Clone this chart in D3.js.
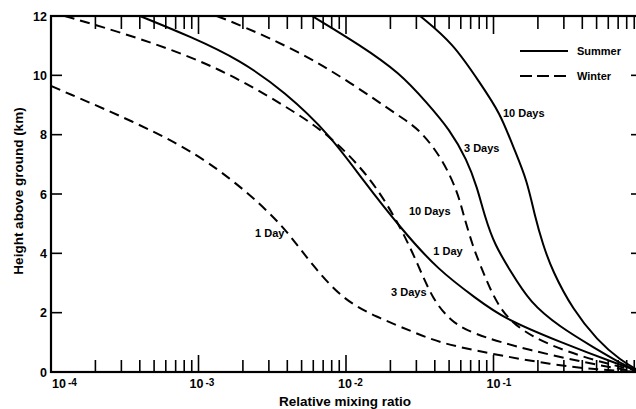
<!DOCTYPE html>
<html><head><meta charset="utf-8">
<script src="https://cdn.jsdelivr.net/npm/d3@7"></script>
<style>
html,body{margin:0;padding:0;background:#fff;}
svg{display:block;font-family:"Liberation Sans",Arial,Helvetica,sans-serif;font-weight:bold;}
</style></head>
<body>
<svg id="chart" width="636" height="409"></svg>
<script>
// ---- data (relative mixing ratio, height km) ----
const xDecades = [1e-4, 1e-3, 1e-2, 1e-1, 1];
const xTickExps = ["-4", "-3", "-2", "-1"];
const yTicks = [0, 2, 4, 6, 8, 10, 12];

const summer1Day = [[4.01e-4,12.0],[8.9e-4,11.3],[1.91e-3,10.52],[3.86e-3,9.44],[7.80e-3,7.99],[0.0130,6.47],[0.0240,4.79],[0.0421,3.44],[0.0773,2.46],[0.116,1.82],[0.282,1.01],[0.721,0.24],[1.0,0.0]];
const summer3Days = [[5.89e-3,12.0],[0.01245,11.02],[0.0232,10.08],[0.0354,9.07],[0.0507,8.16],[0.0661,7.15],[0.0773,6.24],[0.0875,5.22],[0.102,4.28],[0.129,3.44],[0.177,2.33],[0.282,1.52],[0.473,0.84],[0.804,0.17],[1.0,0.0]];
const summer10Days = [[0.0318,12.0],[0.0531,11.09],[0.0809,9.74],[0.111,8.73],[0.136,7.58],[0.169,6.47],[0.191,5.22],[0.217,4.28],[0.249,3.44],[0.346,2.09],[0.504,1.08],[0.721,0.40],[1.0,0.0]];
const winter1Day = [[1.0e-4,9.64],[7.14e-4,7.82],[1.71e-3,6.47],[2.91e-3,5.46],[4.17e-3,4.62],[5.89e-3,3.61],[9.55e-3,2.43],[0.0162,1.85],[0.0285,1.35],[0.0434,0.98],[0.0903,0.64],[0.253,0.24],[0.527,0.07],[1.0,0.0]];
const winter3Days = [[1.24e-4,12.0],[4.01e-4,11.26],[1.40e-3,10.25],[3.86e-3,8.97],[7.80e-3,7.99],[0.01524,6.47],[0.0240,4.79],[0.0308,3.61],[0.0389,2.43],[0.0507,1.75],[0.0693,1.31],[0.169,0.74],[0.581,0.17],[1.0,0.0]];
const winter10Days = [[1.33e-3,12.0],[1.91e-3,11.70],[4.87e-3,10.79],[0.01064,9.77],[0.0240,8.56],[0.0318,8.16],[0.0455,7.15],[0.0574,6.03],[0.0621,5.36],[0.0726,4.21],[0.0839,3.44],[0.111,1.99],[0.177,1.18],[0.386,0.51],[1.0,0.0]];

// label anchors (mixing ratio, height) for the curve labels
const curveLabels = [
  {text:"10 Days", at:[0.116, 8.7]},
  {text:"3 Days",  at:[0.0631, 7.5]},
  {text:"1 Day",   at:[0.0391, 4.05]},
  {text:"10 Days", at:[0.0267, 5.4]},
  {text:"3 Days",  at:[0.0202, 2.65]},
  {text:"1 Day",   at:[2.42e-3, 4.65]}
];
const series = [
  {name:"Summer", data:summer1Day, dashed:false},
  {name:"Summer", data:summer3Days, dashed:false},
  {name:"Summer", data:summer10Days, dashed:false},
  {name:"Winter", data:winter1Day, dashed:true},
  {name:"Winter", data:winter3Days, dashed:true},
  {name:"Winter", data:winter10Days, dashed:true}
];
const legendItems = [{name:"Summer", dashed:false},{name:"Winter", dashed:true}];

// ---- layout ----
const L = 51, R = 641, T = 16, B = 372;
const svg = d3.select("#chart");
const x = d3.scaleLog().domain([1e-4, 1]).range([L, R]);
const y = d3.scaleLinear().domain([0, 12]).range([B, T]);

svg.append("defs").append("clipPath").attr("id","clip")
  .append("rect").attr("x",L).attr("y",T).attr("width",R-L).attr("height",B-T);

// minor/major x ticks (top and bottom, inward)
const xt = x.ticks();
const isMajor = v => Math.abs(Math.log10(v) - Math.round(Math.log10(v))) < 1e-9;
const tickG = svg.append("g").attr("stroke","#000").attr("stroke-width",1.6);
xt.forEach(v => {
  const px = x(v), len = isMajor(v) ? 17 : 12;
  tickG.append("line").attr("x1",px).attr("x2",px).attr("y1",B).attr("y2",B-len);
  tickG.append("line").attr("x1",px).attr("x2",px).attr("y1",T).attr("y2",T+len+1);
});
// y ticks left and right
yTicks.forEach(v => {
  tickG.append("line").attr("x1",L).attr("x2",L+11).attr("y1",y(v)).attr("y2",y(v));
  tickG.append("line").attr("x1",R).attr("x2",R-10).attr("y1",y(v)).attr("y2",y(v));
});

// frame
svg.append("rect").attr("x",L).attr("y",T).attr("width",R-L).attr("height",B-T)
  .attr("fill","none").attr("stroke","#000").attr("stroke-width",2.2);

// curves
const line = d3.line().x(d => x(d[0])).y(d => y(d[1])).curve(d3.curveBasis);
svg.append("g").attr("clip-path","url(#clip)").selectAll("path").data(series).join("path")
  .attr("d", d => line(d.data))
  .attr("fill","none").attr("stroke","#000").attr("stroke-width",2)
  .attr("stroke-dasharray", d => d.dashed ? "10,6" : null);

// curve labels
svg.append("g").selectAll("text").data(curveLabels).join("text")
  .attr("x", d => x(d.at[0])).attr("y", d => y(d.at[1]))
  .attr("font-size",11).attr("dominant-baseline","middle")
  .text(d => d.text);

// y tick labels
svg.append("g").selectAll("text").data(yTicks).join("text")
  .attr("x", 47).attr("y", d => y(d) + 4.5)
  .attr("text-anchor","end").attr("font-size",12.5)
  .text(d => d);

// x tick labels (10^n)
const xl = svg.append("g").attr("font-size",12.5);
xDecades.slice(0,4).forEach((v,i) => {
  const t = xl.append("text").attr("y",388)
    .attr("x", i === 0 ? x(v) + 1 : x(v) - 10 + i*1);
  t.append("tspan").text("10");
  t.append("tspan").attr("dx",2).attr("dy",-2).attr("font-size",10).text(xTickExps[i]);
});

// axis titles
svg.append("text").attr("x",345).attr("y",406).attr("text-anchor","middle")
  .attr("font-size",13.5).text("Relative mixing ratio");
svg.append("text").attr("transform","translate(23,191) rotate(-90)")
  .attr("text-anchor","middle").attr("font-size",13.5).text("Height above ground (km)");

// legend
const lg = svg.append("g");
legendItems.forEach((d,i) => {
  const yy = 51 + i*25;
  lg.append("line").attr("x1",520).attr("x2",568).attr("y1",yy).attr("y2",yy)
    .attr("stroke","#000").attr("stroke-width",2.2)
    .attr("stroke-dasharray", d.dashed ? "12,5" : null);
  lg.append("text").attr("x",577).attr("y",yy+4).attr("font-size",11).text(d.name);
});
</script>
</body></html>
